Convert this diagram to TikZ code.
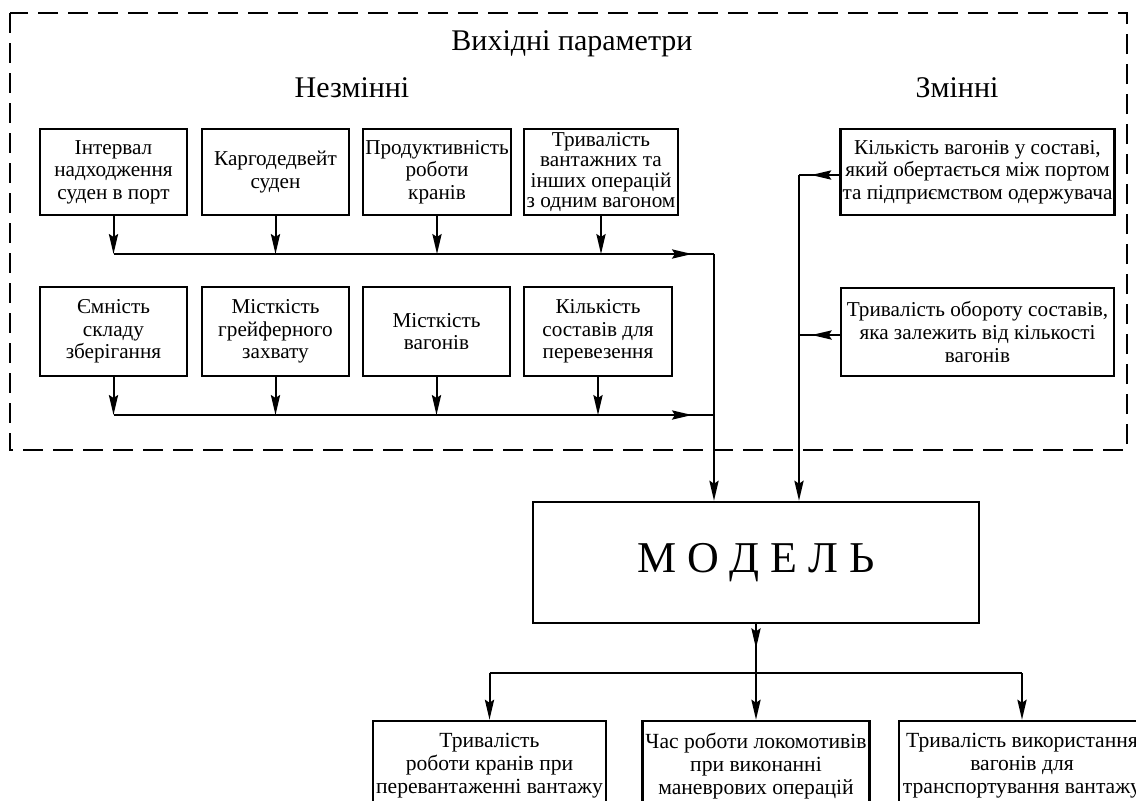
\documentclass[tikz,border=0pt]{standalone}
\usepackage{fontspec}
\setmainfont{Liberation Serif}
\usetikzlibrary{arrows.meta,decorations.markings}
\begin{document}
\begin{tikzpicture}[x=0.5pt,y=-0.5pt,
  tip/.tip={Stealth[length=10pt,width=4.6pt,inset=1.5pt]},
  box/.style={draw, line width=1.3pt, align=center, inner sep=1pt,
    font=\fontsize{10.6}{11.3}\selectfont},
  outbox/.style={box, minimum height=45pt, font=\fontsize{10.8}{11.5}\selectfont},
  conn/.style={line width=1pt},
  arr/.style={conn, -tip},
  midarr/.style={conn, postaction={decorate}, decoration={markings,
    mark=at position #1 with {\arrow{tip}}}},
  lbl/.style={inner sep=0pt, font=\fontsize{15}{17}\selectfont}
]
\useasboundingbox (0,0) rectangle (1136,800);

% dashed frame
\draw[line width=1.2pt, dash pattern=on 10pt off 5pt] (10,13) rectangle (1127,450);

\node[lbl] (title) at (572,44) {Вихідні параметри};
\node[lbl] (fixed) at (352,88) {Незмінні};
\node[lbl] (var) at (957,88) {Змінні};

% top row
\node[box, minimum width=73.5pt, minimum height=43pt] (B1) at (113.5,172) {Інтервал\\надходження\\суден в порт};
\node[box, minimum width=73.5pt, minimum height=43pt] (B2) at (275.5,172) {Каргодедвейт\\суден};
\node[box, minimum width=74pt, minimum height=43pt] (B3) at (437,172) {Продуктивність\\роботи\\кранів};
\node[box, minimum width=77pt, minimum height=43pt, font=\fontsize{10.6}{10.2}\selectfont] (B4) at (601,172) {Тривалість\\вантажних та\\інших операцій\\з одним вагоном};

% second row
\node[box, minimum width=73.5pt, minimum height=44.5pt] (B5) at (113.5,331.5) {Ємність\\складу\\зберігання};
\node[box, minimum width=73.5pt, minimum height=44.5pt] (B6) at (275.5,331.5) {Місткість\\грейферного\\захвату};
\node[box, minimum width=73.5pt, minimum height=44.5pt] (B7) at (436.5,331.5) {Місткість\\вагонів};
\node[box, minimum width=74pt, minimum height=44.5pt] (B8) at (598,331.5) {Кількість\\составів для\\перевезення};

% right column
\node[box, minimum width=136.5pt, minimum height=43pt] (R1) at (977.5,172) {Кількість вагонів у составі,\\який обертається між портом\\та підприємством одержувача};
\node[box, minimum width=136.5pt, minimum height=44pt] (R2) at (977.5,332) {Тривалість обороту составів,\\яка залежить від кількості\\вагонів};

% model
\node[box, minimum width=223pt, minimum height=60.5pt, font=\fontsize{22}{24}\selectfont] (M) at (756,562.5)
  {М\hspace{5.5pt}О\hspace{5.5pt}Д\hspace{5.5pt}Е\hspace{5.5pt}Л\hspace{5.5pt}Ь};

% outputs
\node[outbox, minimum width=116.5pt] (O1) at (489.5,766) {Тривалість\\роботи кранів при\\перевантаженні вантажу};
\node[outbox, minimum width=113.5pt] (O2) at (756,766) {Час роботи локомотивів\\при виконанні\\маневрових операцій};
\node[outbox, minimum width=123pt] (O3) at (1022,766) {Тривалість використання\\вагонів для\\транспортування вантажу};

% junction coordinates
\coordinate (J1) at (714,254);
\coordinate (J2) at (714,415);
\coordinate (J3) at (799,175);
\coordinate (J4) at (799,335);
\coordinate (J5) at (756,673);

% top row connectors
\foreach \n in {B1,B2,B3,B4} \draw[arr] (\n.south) -- (\n.south |- J1);
\draw[midarr=-11pt] (B1.south |- J1) -- (J1);
\foreach \n in {B5,B6,B7,B8} \draw[arr] (\n.south) -- (\n.south |- J2);
\draw[midarr=-11pt] (B5.south |- J2) -- (J2);
\draw[arr] (J1) -- (J1 |- M.north);

% right connectors
\draw[midarr=14pt] (R1.west |- J3) -- (J3);
\draw[midarr=14pt] (R2.west |- J4) -- (J4);
\draw[arr] (J3) -- (J3 |- M.north);

% model outputs
\draw[midarr=12pt] (M.south) -- (J5);
\draw[conn] (O1.north |- J5) -- (O3.north |- J5);
\draw[arr] (O1.north |- J5) -- (O1.north);
\draw[arr] (J5) -- (O2.north);
\draw[arr] (O3.north |- J5) -- (O3.north);
\end{tikzpicture}
\end{document}
